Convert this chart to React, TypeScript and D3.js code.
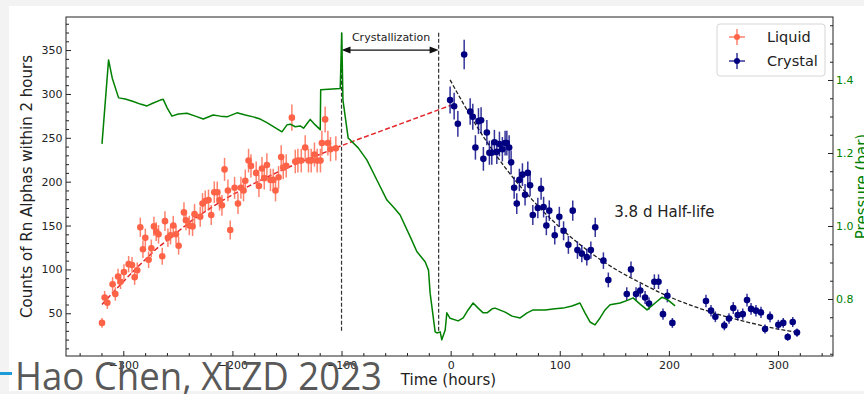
import React, { useEffect, useRef } from 'react';
import * as d3 from 'd3';

// Liquid phase: time (hours) and counts of Rn alphas per 2 h bin
const liquidTime = [
  -319.5, -317.1, -314.6, -309.8, -307.3, -304.8, -302.5, -299.4, -295.1, -292, -289.6, -287.2, -284.4,
  -282, -279.8, -276.8, -274.3, -271.9, -269.8, -267.7, -264.3, -261.8, -259.1, -256.7, -254.2, -251.7,
  -249.3, -244.4, -242.6, -239.5, -236.5, -234.7, -229.5, -227.4, -224.9, -221.9, -219.4, -216.6, -213.9,
  -211.8, -209.6, -207.2, -204.1, -202, -198, -194.9, -192.2, -189.8, -188.2, -185.2, -183, -178.2, -175.7,
  -172.9, -170.8, -168.4, -165.1, -162.6, -160.5, -157.7, -155.3, -153.4, -150.7, -145.5, -142.4, -140,
  -136.9, -133.3, -130.3, -127.8, -124.8, -122.3, -119.3, -118, -115, -112.5, -110.1, -105.2,
];
const liquidCounts = [
  39, 68, 62, 83, 72, 92, 86, 97, 106, 105, 91, 99, 148, 123, 136, 111, 124, 149, 143, 140, 115, 155, 136,
  139, 150, 140, 127, 165, 156, 150, 149, 163, 160, 175, 178, 179, 162, 188, 188, 179, 173, 214, 190, 145,
  193, 175, 193, 190, 201, 224, 218, 210, 195, 215, 204, 219, 202, 202, 190, 205, 228, 216, 218, 273, 223,
  224, 224, 239, 224, 224, 231, 224, 224, 244, 271, 244, 237, 238,
];

// Crystal phase
const crystalTime = [
  -0.5, 3.2, 6.6, 12.4, 17.9, 20.3, 22.7, 25.5, 27.9, 30, 33.2, 35.5, 37.7, 40.1, 42.3, 44.7, 47.4, 49.9,
  51.5, 53.6, 55.4, 58.2, 60.6, 63, 65.8, 68.2, 70.7, 72.8, 75.3, 79.9, 82.9, 85.2, 87.7, 90.4, 95.4, 99.6,
  103.5, 107.9, 111.9, 116.2, 120.2, 124.8, 128.5, 132.5, 140, 144.5, 161.4, 165.3, 169.9, 173.8, 178.2,
  181.8, 186.7, 190.5, 194.6, 198.6, 203.2, 234, 238.6, 242.6, 250.8, 255.1, 259, 263.1, 267.7, 271.6,
  275.3, 279.8, 284.4, 288.1, 292.7, 300.3, 304.8, 308.9, 313.5, 317.4,
];
const crystalCounts = [
  293, 286, 266, 345, 280, 274, 239, 269, 270, 226, 256, 233, 233, 245, 234, 243, 237, 244, 244, 239, 222,
  193, 175, 202, 208, 185, 210, 196, 162, 170, 192, 171, 150, 167, 139, 160, 144, 128, 167, 122, 118, 114,
  122, 148, 110, 88, 72, 100, 72, 76, 68, 61, 86, 86, 49, 70, 39, 64, 53, 46, 36, 44, 56, 48, 49, 65, 55,
  53, 51, 32, 46, 37, 39, 23, 40, 28,
];

// Pressure (bar), right axis
const pressureTime = [
  -319.5, -313.5, -310.1, -304.3, -298.2, -290.8, -284.4, -278.3, -272.5, -266.1, -263.4, -259.7, -255.4,
  -249.6, -241.6, -234, -226.7, -217.6, -211.1, -205, -195.8, -188.2, -180.9, -174.5, -168.4, -161.7,
  -154.6, -150, -147, -142.4, -137.9, -134.8, -130.5, -128.7, -124.1, -119.5, -119.1, -101.2, -99.8, -98.7,
  -93.9, -84.7, -76.8, -67.6, -58.4, -52.7, -46.3, -37.1, -31, -23.4, -20.3, -18.8, -17.2, -14.2, -12.6,
  -9.6, -8.1, -5, -3.5, -0.5, 6.9, 11.5, 16, 20.6, 25.2, 29.8, 33.4, 38, 40.8, 49.9, 56.3, 63.7, 70.1,
  75.6, 86.6, 95.7, 103, 111.2, 118.5, 123.1, 127.7, 132.3, 136.9, 141.5, 146.1, 155.3, 162.6, 167.2,
  173.6, 180, 187.4, 193.8, 199.3, 205.7,
];
const pressureBar = [
  1.225, 1.455, 1.405, 1.351, 1.348, 1.341, 1.334, 1.329, 1.337, 1.345, 1.347, 1.323, 1.301, 1.307, 1.309,
  1.301, 1.293, 1.304, 1.301, 1.299, 1.31, 1.304, 1.299, 1.293, 1.283, 1.271, 1.258, 1.277, 1.279, 1.272,
  1.274, 1.268, 1.285, 1.292, 1.277, 1.264, 1.373, 1.377, 1.529, 1.345, 1.241, 1.214, 1.181, 1.126, 1.071,
  1.053, 1.03, 0.971, 0.93, 0.902, 0.879, 0.816, 0.779, 0.71, 0.707, 0.71, 0.688, 0.715, 0.762, 0.747,
  0.74, 0.748, 0.77, 0.789, 0.775, 0.762, 0.762, 0.773, 0.775, 0.764, 0.753, 0.748, 0.762, 0.77, 0.77,
  0.773, 0.775, 0.781, 0.789, 0.762, 0.737, 0.729, 0.748, 0.77, 0.784, 0.789, 0.797, 0.803, 0.786, 0.77,
  0.789, 0.805, 0.797, 0.781,
];

// fit curves
const liquidFitTime = [-319.5, -310, -300, -290, -280, -270, -260, -250, -240, -220, -200, -180, -160, -140, -120, -100, -50, 0];
const liquidFitCounts = [60, 73, 86, 99, 111, 123, 133, 143, 153, 170, 185, 198, 210, 221, 231, 241, 264, 287];
const decayFitTime = [-0.5, 25, 50, 75, 100, 125, 150, 175, 200, 225, 250, 275, 300, 316];
const decayFitCounts = [316, 261, 216, 179, 148, 122, 101, 84, 69, 57, 47, 39, 32, 28.6];

const timeTicks = [-300, -200, -100, 0, 100, 200, 300];
const countTicks = [50, 100, 150, 200, 250, 300, 350];
const pressureTicks = [0.8, 1.0, 1.2, 1.4];
const crystallization = [-100, -11];

const W = 864;
const H = 394;
const plot = { left: 66, right: 833, top: 17, bottom: 356 };
const font = 'DejaVu Sans';

const App = () => {
  const svgRef = useRef(null);

  useEffect(() => {
    const svg = d3.select(svgRef.current);
    svg.selectAll('*').remove();

    const x = d3.scaleLinear().domain([-352.5, 350.4]).range([plot.left, plot.right]);
    const yL = d3.scaleLinear().domain([1.3, 387.7]).range([plot.bottom, plot.top]);
    const yR = d3.scaleLinear().domain([0.6438, 1.5726]).range([plot.bottom, plot.top]);

    // page background + figure area
    svg.append('rect').attr('width', W).attr('height', H).attr('fill', '#f3f3f3');
    svg.append('rect').attr('x', 9).attr('y', 6).attr('width', W - 9).attr('height', 385).attr('fill', '#fff');

    // axes
    const styleAxis = (g, color) => {
      g.select('.domain').remove();
      g.attr('font-family', font).attr('font-size', 11);
      g.selectAll('line').attr('stroke', '#222').attr('stroke-width', 1);
      g.selectAll('text').attr('fill', color);
    };

    svg.append('g')
      .attr('transform', `translate(0,${plot.bottom})`)
      .call(d3.axisBottom(x).tickValues(timeTicks).tickSize(-5).tickSizeOuter(0).tickPadding(5.5).tickFormat(d3.format('d')))
      .call(g => styleAxis(g, '#222'));
    svg.append('g')
      .attr('transform', `translate(0,${plot.bottom})`)
      .call(d3.axisBottom(x).tickValues(d3.range(-340, 341, 20).filter(v => v % 100 !== 0)).tickSize(-3).tickSizeOuter(0).tickFormat(() => ''))
      .call(g => styleAxis(g, '#222'));

    svg.append('g')
      .attr('transform', `translate(${plot.left},0)`)
      .call(d3.axisLeft(yL).tickValues(countTicks).tickSize(-5).tickSizeOuter(0).tickPadding(3.5))
      .call(g => styleAxis(g, '#222'));
    svg.append('g')
      .attr('transform', `translate(${plot.left},0)`)
      .call(d3.axisLeft(yL).tickValues(d3.range(10, 381, 10).filter(v => v % 50 !== 0)).tickSize(-3).tickSizeOuter(0).tickFormat(() => ''))
      .call(g => styleAxis(g, '#222'));

    svg.append('g')
      .attr('transform', `translate(${plot.right},0)`)
      .call(d3.axisRight(yR).tickValues(pressureTicks).tickSize(-5).tickSizeOuter(0).tickPadding(3).tickFormat(d3.format('.1f')))
      .call(g => styleAxis(g, 'green'));
    svg.append('g')
      .attr('transform', `translate(${plot.right},0)`)
      .call(d3.axisRight(yR).tickValues([0.65, 0.7, 0.75, 0.85, 0.9, 0.95, 1.05, 1.1, 1.15, 1.25, 1.3, 1.35, 1.45, 1.5, 1.55]).tickSize(-3).tickSizeOuter(0).tickFormat(() => ''))
      .call(g => styleAxis(g, 'green'));

    svg.append('rect')
      .attr('x', plot.left).attr('y', plot.top)
      .attr('width', plot.right - plot.left).attr('height', plot.bottom - plot.top)
      .attr('fill', 'none').attr('stroke', '#222').attr('stroke-width', 1);

    // axis labels
    svg.append('text')
      .attr('transform', `translate(32,${(plot.top + plot.bottom) / 2}) rotate(-90)`)
      .attr('text-anchor', 'middle').attr('font-family', font).attr('font-size', 15).attr('fill', '#222')
      .text('Counts of Rn Alphas within 2 hours');
    svg.append('text')
      .attr('transform', `translate(867,${(plot.top + plot.bottom) / 2}) rotate(-90)`)
      .attr('text-anchor', 'middle').attr('font-family', font).attr('font-size', 15).attr('fill', 'green')
      .text('Pressure (bar)');
    svg.append('text')
      .attr('x', (plot.left + plot.right) / 2 - 1).attr('y', 385)
      .attr('text-anchor', 'middle').attr('font-family', font).attr('font-size', 15).attr('fill', '#222')
      .text('Time (hours)');

    // crystallization markers
    crystallization.forEach(t => {
      svg.append('line')
        .attr('x1', x(t)).attr('x2', x(t)).attr('y1', yL(30)).attr('y2', yL(370))
        .attr('stroke', '#333').attr('stroke-width', 1.2).attr('stroke-dasharray', '4,2');
    });
    const ay = yL(350);
    const ax1 = x(crystallization[0]);
    const ax2 = x(crystallization[1]);
    svg.append('line').attr('x1', ax1 + 4).attr('x2', ax2 - 4).attr('y1', ay).attr('y2', ay)
      .attr('stroke', '#111').attr('stroke-width', 1.3);
    svg.append('path').attr('d', `M${ax1},${ay}L${ax1 + 9},${ay - 3.5}L${ax1 + 9},${ay + 3.5}Z`).attr('fill', '#111');
    svg.append('path').attr('d', `M${ax2},${ay}L${ax2 - 9},${ay - 3.5}L${ax2 - 9},${ay + 3.5}Z`).attr('fill', '#111');
    svg.append('text')
      .attr('x', (ax1 + ax2) / 2 + 1).attr('y', yL(360.3))
      .attr('text-anchor', 'middle').attr('font-family', font).attr('font-size', 11).attr('fill', '#222')
      .text('Crystallization');

    // fits
    const fitLine = d3.line().x(d => x(d[0])).y(d => yL(d[1])).curve(d3.curveMonotoneX);
    svg.append('path')
      .datum(d3.zip(liquidFitTime, liquidFitCounts))
      .attr('d', fitLine).attr('fill', 'none')
      .attr('stroke', '#e3262a').attr('stroke-width', 1.5).attr('stroke-dasharray', '5,2.5');
    svg.append('path')
      .datum(d3.zip(decayFitTime, decayFitCounts))
      .attr('d', fitLine).attr('fill', 'none')
      .attr('stroke', '#222').attr('stroke-width', 1.3).attr('stroke-dasharray', '4,2');

    // data with error bars
    const drawPoints = (times, counts, color) => {
      const g = svg.append('g');
      const pts = d3.zip(times, counts);
      g.selectAll('line.ey').data(pts).enter().append('line')
        .attr('x1', d => x(d[0])).attr('x2', d => x(d[0]))
        .attr('y1', d => yL(d[1] + 0.9 * Math.sqrt(d[1])))
        .attr('y2', d => yL(d[1] - 0.9 * Math.sqrt(d[1])))
        .attr('stroke', color).attr('stroke-width', 1.5).attr('stroke-opacity', 0.8);
      g.selectAll('line.ex').data(pts).enter().append('line')
        .attr('x1', d => x(d[0] - 1)).attr('x2', d => x(d[0] + 1))
        .attr('y1', d => yL(d[1])).attr('y2', d => yL(d[1]))
        .attr('stroke', color).attr('stroke-width', 1.5).attr('stroke-opacity', 0.8);
      g.selectAll('circle').data(pts).enter().append('circle')
        .attr('cx', d => x(d[0])).attr('cy', d => yL(d[1])).attr('r', 3.3)
        .attr('fill', color);
    };
    drawPoints(liquidTime, liquidCounts, 'tomato');
    drawPoints(crystalTime, crystalCounts, 'navy');

    // pressure line
    svg.append('path')
      .datum(d3.zip(pressureTime, pressureBar))
      .attr('d', d3.line().x(d => x(d[0])).y(d => yR(d[1])))
      .attr('fill', 'none').attr('stroke', 'green').attr('stroke-width', 1.5).attr('stroke-linejoin', 'round');

    svg.append('text')
      .attr('x', x(150)).attr('y', yL(160))
      .attr('font-family', font).attr('font-size', 15).attr('fill', '#222')
      .text('3.8 d Half-life');

    // legend
    const legend = svg.append('g').attr('transform', 'translate(717,24)');
    legend.append('rect').attr('width', 108).attr('height', 52).attr('rx', 3)
      .attr('fill', '#fff').attr('fill-opacity', 0.85).attr('stroke', '#d6d6d6');
    [['Liquid', 'tomato'], ['Crystal', 'navy']].forEach(([label, color], i) => {
      const cy = 13 + i * 24;
      legend.append('line').attr('x1', 12).attr('x2', 28).attr('y1', cy).attr('y2', cy)
        .attr('stroke', color).attr('stroke-width', 1.5).attr('stroke-opacity', 0.8);
      legend.append('line').attr('x1', 20).attr('x2', 20).attr('y1', cy - 8).attr('y2', cy + 8)
        .attr('stroke', color).attr('stroke-width', 1.5).attr('stroke-opacity', 0.8);
      legend.append('circle').attr('cx', 20).attr('cy', cy).attr('r', 3).attr('fill', color);
      legend.append('text').attr('x', 50).attr('y', cy + 5)
        .attr('font-family', font).attr('font-size', 14.5).attr('fill', '#222').text(label);
    });

    // slide watermark
    svg.append('rect').attr('x', 0).attr('y', 372).attr('width', 12).attr('height', 3).attr('fill', '#1b9bd7');
    svg.append('text')
      .attr('x', 15).attr('y', 390)
      .attr('font-family', 'Open Sans').attr('font-size', 38).attr('fill', '#595959')
      .attr('textLength', 367).attr('lengthAdjust', 'spacingAndGlyphs')
      .text('Hao Chen, XLZD 2023');
  }, []);

  return <svg ref={svgRef} width={W} height={H} style={{ position: 'absolute', left: 0, top: 0 }}></svg>;
};

export default App;
